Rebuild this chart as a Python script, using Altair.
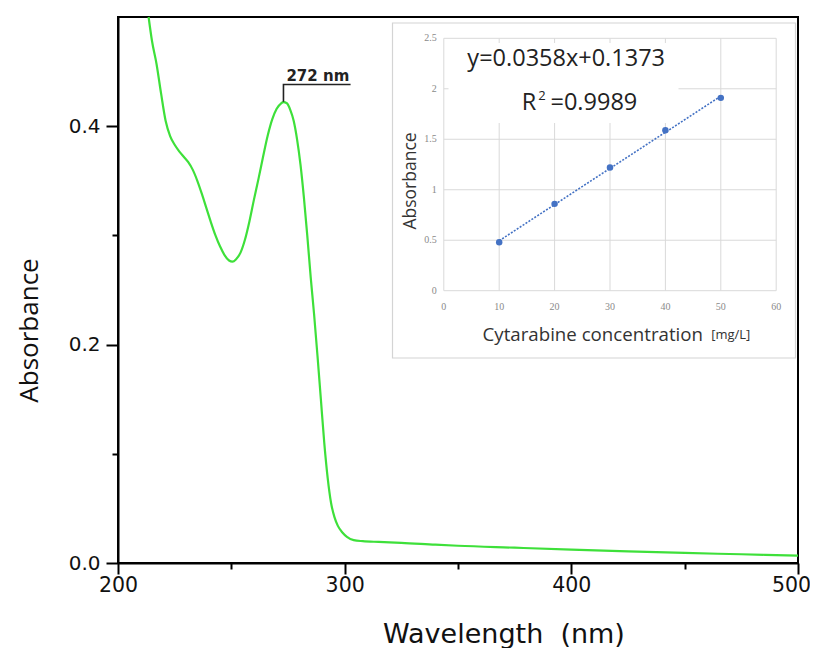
import altair as alt
import pandas as pd

# ---------------- main UV spectrum ----------------
wavelength = [213.5, 215, 217, 219, 221, 223, 225, 227, 229, 231, 233, 235, 237, 239,
              241, 243, 245, 247, 249, 250.5, 252, 254, 256, 258, 260, 262, 264, 266,
              268, 270, 272, 273, 274.5, 276, 277.5, 279, 280.5, 282, 283.5, 285,
              286.5, 288, 289.5, 291, 292.5, 294, 295.5, 297, 299, 301, 304, 308,
              315, 325, 340, 350, 375, 400, 425, 450, 475, 500]
absorbance = [0.500, 0.478, 0.457, 0.430, 0.405, 0.391, 0.383, 0.377, 0.372, 0.367,
              0.360, 0.350, 0.338, 0.325, 0.312, 0.300, 0.290, 0.282, 0.277, 0.276,
              0.278, 0.284, 0.296, 0.313, 0.333, 0.352, 0.372, 0.391, 0.406, 0.416,
              0.421, 0.422, 0.421, 0.415, 0.405, 0.388, 0.365, 0.335, 0.300, 0.262,
              0.228, 0.190, 0.150, 0.110, 0.078, 0.055, 0.042, 0.034, 0.028, 0.024,
              0.021, 0.0200, 0.0193, 0.0185, 0.0168, 0.0158, 0.0140, 0.0122, 0.0106,
              0.0092, 0.0080, 0.0068]

x_ticks = [200, 250, 300, 350, 400, 450, 500]
y_ticks = [0.0, 0.1, 0.2, 0.3, 0.4]

peak_label = "272 nm"
leader_x = [273.0, 273.0, 302.6]
leader_y = [0.4224, 0.4382, 0.4382]
label_x = [274.3]
label_y = [0.4418]

# ---------------- inset calibration ----------------
conc = [10, 20, 30, 40, 50]
conc_abs = [0.48, 0.86, 1.22, 1.59, 1.91]
trend_x = [10, 50]
trend_y = [0.495, 1.927]
inset_x_ticks = [0, 10, 20, 30, 40, 50, 60]
inset_y_ticks = [0, 0.5, 1, 1.5, 2, 2.5]
equation = "y=0.0358x+0.1373"
r2_value = "=0.9989"

W, H = 680, 546

spec_df = pd.DataFrame({"wl": wavelength, "ab": absorbance})
leader_df = pd.DataFrame({"wl": leader_x, "ab": leader_y, "o": [0, 1, 2]})
label_df = pd.DataFrame({"wl": label_x, "ab": label_y, "t": [peak_label]})

xs = alt.Scale(domain=[200, 500], nice=False, zero=False)
ys = alt.Scale(domain=[0, 0.5], nice=False, zero=True)

x_axis = alt.Axis(
    values=x_ticks,
    labelExpr="datum.value % 100 === 0 ? datum.label : ''",
    tickSize={"condition": {"test": "datum.value % 100 === 0", "value": 11}, "value": 6},
    labelOffset={"condition": {"test": "datum.value === 500", "value": -7}, "value": 0},
    title="Wavelength\u00a0 (nm)",
    titleX=385.5, titleY=79, titleAlign="center", titleBaseline="alphabetic",
    titleFont="DejaVu Sans", titleFontSize=27, titleFontWeight="normal", titleColor="#111",
    labelFont="DejaVu Sans", labelFontSize=20.5, labelColor="#111", labelPadding=1,
    labelFlush=False, grid=False, domainColor="black", domainWidth=2,
    tickColor="black", tickWidth=2,
)
y_axis = alt.Axis(
    values=y_ticks,
    labelExpr="round(datum.value*10) % 2 === 0 ? format(datum.value, '.1f') : ''",
    tickSize={"condition": {"test": "round(datum.value*10) % 2 === 0", "value": 12}, "value": 6},
    title="Absorbance",
    titleX=-81, titleY=313, titleAngle=270, titleAlign="center", titleBaseline="alphabetic",
    titleFont="Open Sans", titleFontSize=26, titleFontWeight="normal", titleColor="#111",
    labelFont="DejaVu Sans", labelFontSize=20, labelColor="#111", labelPadding=6,
    labelFlush=False, grid=False, domainColor="black", domainWidth=2,
    tickColor="black", tickWidth=2,
)

curve = alt.Chart(spec_df).mark_line(color="#3ee03a", strokeWidth=2.2, interpolate="monotone").encode(
    x=alt.X("wl:Q", scale=xs, axis=x_axis),
    y=alt.Y("ab:Q", scale=ys, axis=y_axis),
)
leader = alt.Chart(leader_df).mark_line(color="#222", strokeWidth=1.6).encode(
    x=alt.X("wl:Q", scale=xs), y=alt.Y("ab:Q", scale=ys), order="o:Q"
)
label = alt.Chart(label_df).mark_text(
    font="DejaVu Sans", fontSize=15, fontWeight="bold", align="left", baseline="alphabetic", color="#222"
).encode(x=alt.X("wl:Q", scale=xs), y=alt.Y("ab:Q", scale=ys), text="t:N")

main = alt.layer(curve, leader, label)

# ---------------- inset ----------------
cs = alt.Scale(domain=[0, 60], range=[325.8, 658.2], nice=False, zero=False)
as_ = alt.Scale(domain=[0, 2.5], range=[273.7, 21.3], nice=False, zero=False)

grid_v_df = pd.DataFrame({"c": inset_x_ticks})
grid_h_df = pd.DataFrame({"a": inset_y_ticks})
pts_df = pd.DataFrame({"c": conc, "a": conc_abs})
trend_df = pd.DataFrame({"c": trend_x, "a": trend_y})

one = pd.DataFrame({"k": [0]})

box = alt.Chart(one).mark_rect(fill="white", stroke="#d4d4d4", strokeWidth=1.2).encode(
    x=alt.value(274.5), x2=alt.value(677.5), y=alt.value(6), y2=alt.value(341)
)
grid_v = alt.Chart(grid_v_df).mark_rule(color="#d9d9d9", strokeWidth=1).encode(
    x=alt.X("c:Q", scale=cs, axis=None),
    y=alt.Y(datum=0, scale=as_, axis=None),
    y2=alt.Y2(datum=2.5),
)
grid_h = alt.Chart(grid_h_df).mark_rule(color="#d9d9d9", strokeWidth=1).encode(
    y=alt.Y("a:Q", scale=as_, axis=None),
    x=alt.X(datum=0, scale=cs, axis=None),
    x2=alt.X2(datum=60),
)
eq_bg = alt.Chart(one).mark_rect(fill="white").encode(
    x=alt.value(330.5), x2=alt.value(560.5), y=alt.value(26), y2=alt.value(106)
)
xlab = alt.Chart(grid_v_df).mark_text(
    font="Liberation Sans Narrow", fontSize=10, color="#8a8a8a", baseline="middle", dy=16
).encode(
    x=alt.X("c:Q", scale=cs, axis=None),
    y=alt.Y(datum=0, scale=as_, axis=None),
    text="c:Q",
)
ylab = alt.Chart(grid_h_df).mark_text(
    font="Liberation Sans Narrow", fontSize=10, color="#8a8a8a", baseline="middle", align="right", dx=-7
).encode(
    y=alt.Y("a:Q", scale=as_, axis=None),
    x=alt.X(datum=0, scale=cs, axis=None),
    text="a:Q",
)
trend = alt.Chart(trend_df).mark_line(color="#4472C4", strokeWidth=1.6, strokeDash=[2, 1.5]).encode(
    x=alt.X("c:Q", scale=cs, axis=None), y=alt.Y("a:Q", scale=as_, axis=None)
)
pts = alt.Chart(pts_df).mark_circle(color="#4472C4", size=42, opacity=1).encode(
    x=alt.X("c:Q", scale=cs, axis=None), y=alt.Y("a:Q", scale=as_, axis=None)
)

def txt(s, x, y, size, align="left", color="#222", angle=0, font="Open Sans", baseline="alphabetic"):
    return alt.Chart(one).mark_text(
        text=s, font=font, fontSize=size, align=align, baseline=baseline, color=color, angle=angle
    ).encode(x=alt.value(x), y=alt.value(y))

eq = txt(equation, 448.2, 49.3, 23.5, align="center")
r_t = txt("R", 418.2, 92.7, 23.5, align="right")
r_sup = txt("2", 424, 83, 13, align="center")
r_val = txt(r2_value, 432.5, 92.7, 23.5)
inset_ytitle = txt("Absorbance", 293, 164, 17.5, align="center", color="#333", angle=270, baseline="middle")
inset_xtitle = txt("Cytarabine concentration", 364.5, 318, 18.7, color="#333", baseline="middle")
inset_unit = txt("[mg/L]", 593.2, 318, 13, color="#333", baseline="middle")

inset = alt.layer(box, grid_v, grid_h, eq_bg, xlab, ylab, trend, pts,
                  eq, r_t, r_sup, r_val, inset_ytitle, inset_xtitle, inset_unit)

chart = alt.layer(main, inset).resolve_scale(x="independent", y="independent").properties(
    width=W, height=H,
    autosize=alt.AutoSizeParams(type="none"),
    padding={"left": 110, "top": 9, "right": 12, "bottom": 86},
    background="white",
).configure_view(stroke="black", strokeWidth=2)

chart.save("out.html", embed_options={"renderer": "svg", "actions": False})
